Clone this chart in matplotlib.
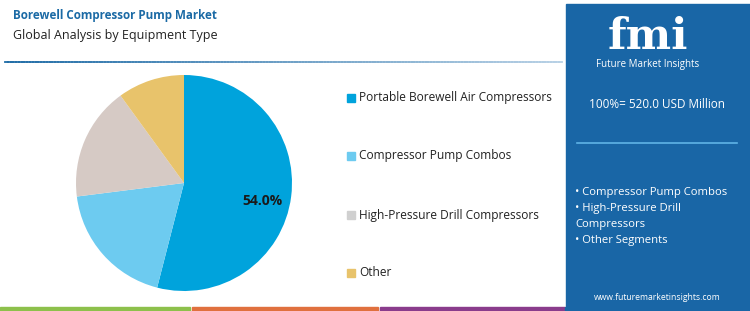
import matplotlib
matplotlib.use("Agg")
import matplotlib.pyplot as plt
from matplotlib.patches import Rectangle
import numpy as np

categories = ["Portable Borewell Air Compressors", "Compressor Pump Combos",
              "High-Pressure Drill Compressors", "Other"]
values = [54.0, 19.0, 17.0, 10.0]
colors = ["#00a3dc", "#6dcbf0", "#d6cac5", "#e8c36b"]
legend_colors = ["#00a3dc", "#6dcbf0", "#d0d0d0", "#e8c36b"]
title = "Borewell Compressor Pump Market"
subtitle = "Global Analysis by Equipment Type"
total_text = "100%= 520.0 USD Million"
bullets = ["• Compressor Pump Combos", "• High-Pressure Drill", "Compressors", "• Other Segments"]

plt.rcParams['font.family'] = ['Open Sans', 'DejaVu Sans']

W, H = 750, 311
fig = plt.figure(figsize=(W/100, H/100), dpi=100)
fig.patch.set_facecolor("white")

def fx(x): return x / W
def fy(y): return 1 - y / H

# Pie
cx, cy, r = 184, 183, 108
ax = fig.add_axes([fx(cx - r), fy(cy + r), 2*r/W, 2*r/H])
wedges, _ = ax.pie(values, colors=colors, startangle=90, counterclock=False,
                   wedgeprops=dict(linewidth=0))
ax.set_xlim(-1, 1); ax.set_ylim(-1, 1)
ax.set_aspect('equal')
ax.axis('off')
ax.text(0.73, -0.17, f"{values[0]:.1f}%", ha='center', va='center',
        fontsize=10, fontweight='bold', color="#1a1a1a")

# Title texts
fig.text(fx(13), fy(15), title, fontsize=8.4, fontweight='bold', color="#1b6aa5",
         ha='left', va='center')
fig.text(fx(13), fy(36), subtitle, fontsize=9.0, color="#222222", ha='left', va='center')

# header line (gradient)
n = 200
xs = np.linspace(5, 562, n + 1)
for i in range(n):
    t = i / n
    c = (0.12 + 0.6*t, 0.42 + 0.4*t, 0.65 + 0.25*t)
    fig.add_artist(plt.Line2D([fx(xs[i]), fx(xs[i+1])], [fy(62), fy(62)],
                              color=c, lw=1.3, transform=fig.transFigure))

# Legend
leg_y = [98, 156, 215, 273]
for lab, col, yy in zip(categories, legend_colors, leg_y):
    fig.add_artist(Rectangle((fx(347), fy(yy + 4)), 8/W, 8/H, color=col,
                             transform=fig.transFigure))
    fig.text(fx(359), fy(yy), lab, fontsize=8.6, color="#222222", ha='left', va='center')

# Right panel
fig.add_artist(Rectangle((fx(566), fy(306)), (750 - 566)/W, (306 - 4)/H,
                         color="#1966a6", transform=fig.transFigure, zorder=0))

# Logo approximation
fig.text(fx(648), fy(49), "fmi", fontsize=31, fontweight='bold', color="white",
         ha='center', va='baseline', family=['DejaVu Serif'])
fig.text(fx(648), fy(65), "Future Market Insights", fontsize=7, color="white",
         ha='center', va='center')

fig.text(fx(657), fy(105), total_text, fontsize=8.5, color="white", ha='center', va='center')
fig.add_artist(plt.Line2D([fx(577), fx(737)], [fy(143), fy(143)], color="#5fb3e6",
                          lw=1.2, transform=fig.transFigure))
by = [193, 209, 225, 240]
for b, yy in zip(bullets, by):
    fig.text(fx(575), fy(yy), b, fontsize=8.1, color="white", ha='left', va='center')
fig.text(fx(657), fy(297), "www.futuremarketinsights.com", fontsize=6.2, color="white",
         ha='center', va='center')

# Bottom stripes
stripes = [(0, 190, "#8dc04b"), (192, 378, "#e0703e"), (380, 565, "#8a3c8c"), (565, 750, "#1966a6")]
for x0, x1, c in stripes:
    fig.add_artist(Rectangle((fx(x0), 0), (x1 - x0)/W, 4/H, color=c,
                             transform=fig.transFigure))

fig.savefig("out.png", dpi=100, facecolor="white")
